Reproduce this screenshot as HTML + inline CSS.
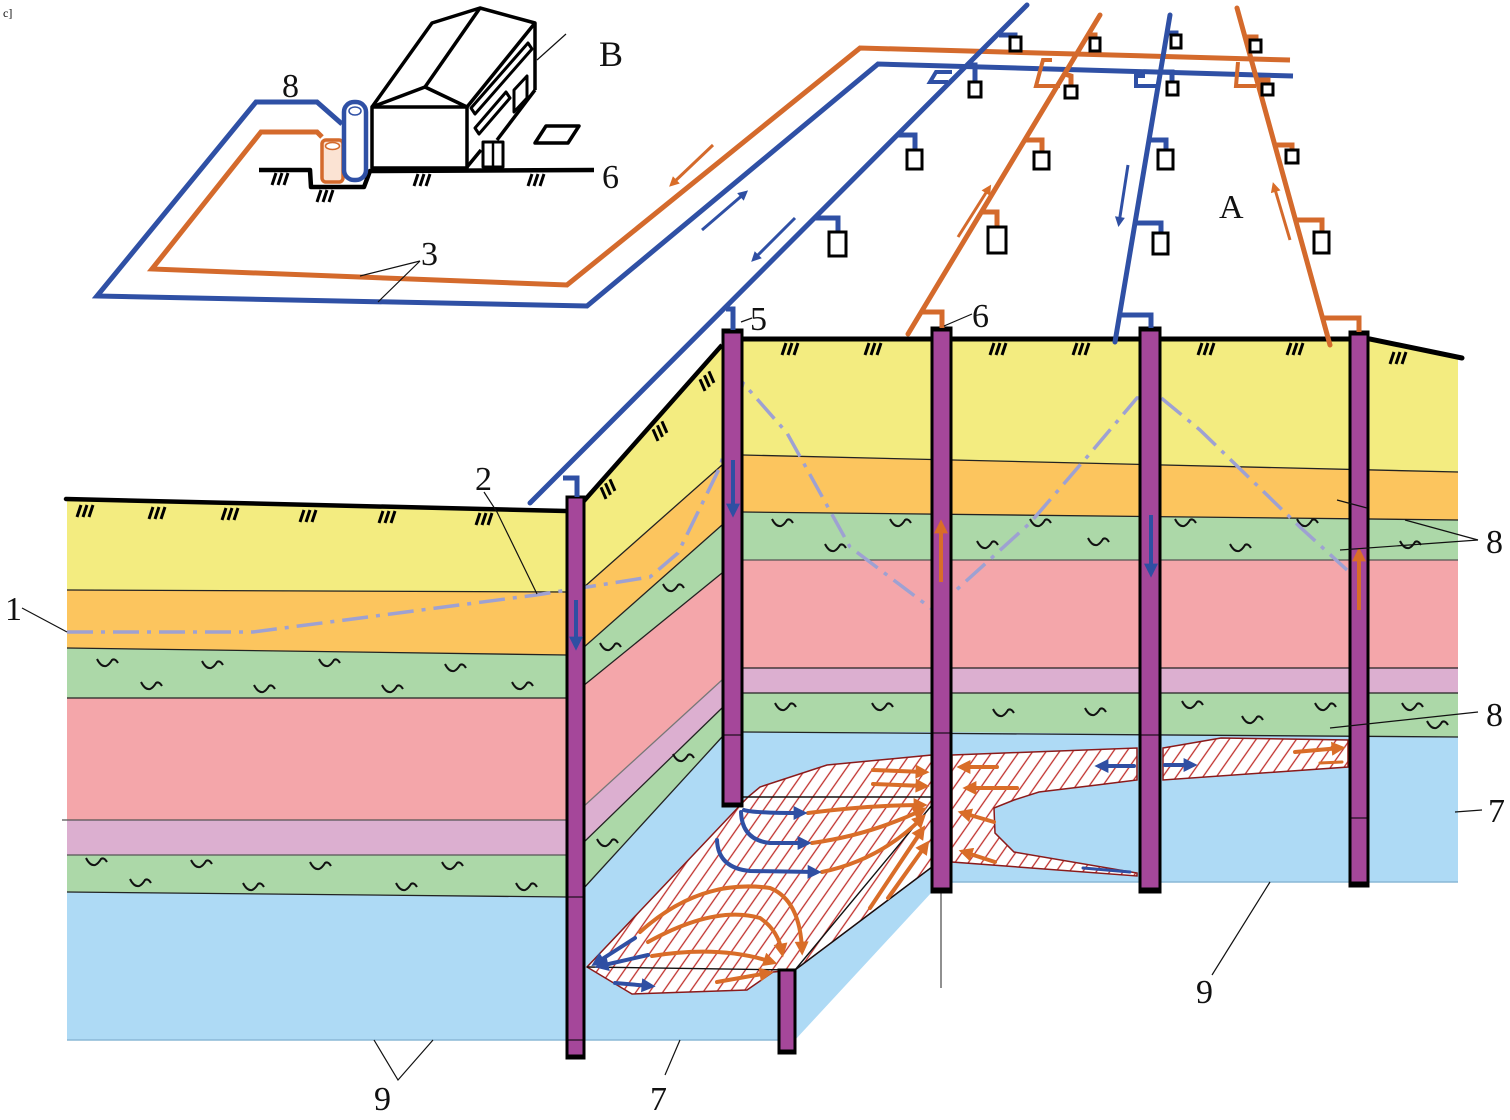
<!DOCTYPE html>
<html><head><meta charset="utf-8">
<style>html,body{margin:0;padding:0;background:#fff}svg{display:block}text{font-family:"Liberation Serif",serif;fill:#111}</style>
</head><body>
<svg width="1510" height="1120" viewBox="0 0 1510 1120" xmlns="http://www.w3.org/2000/svg">
<defs>
<pattern id="hp" width="11" height="11" patternUnits="userSpaceOnUse" patternTransform="rotate(35)"><rect width="11" height="11" fill="#fff"/><line x1="1" y1="0" x2="1" y2="11" stroke="#c0302c" stroke-width="1.3"/></pattern>
<path id="wv" d="M0,-4 Q4,4 9,3 Q12,2 15,-3 Q18,-5 21,0" fill="none" stroke="#111" stroke-width="2"/>
<path id="hm" d="M0,12 L4,0 M6,12 L10,0 M12,12 L16,0" stroke="#000" stroke-width="3" fill="none"/>
<marker id="mo" viewBox="0 0 10 10" refX="6" refY="5" markerWidth="16" markerHeight="14" markerUnits="userSpaceOnUse" orient="auto"><path d="M0,0 L10,5 L0,10 z" fill="#d96d28"/></marker>
<marker id="mb" viewBox="0 0 10 10" refX="6" refY="5" markerWidth="16" markerHeight="14" markerUnits="userSpaceOnUse" orient="auto"><path d="M0,0 L10,5 L0,10 z" fill="#2f4fa3"/></marker>
<marker id="mos" viewBox="0 0 10 10" refX="6" refY="5" markerWidth="12" markerHeight="10" markerUnits="userSpaceOnUse" orient="auto"><path d="M0,0 L10,5 L0,10 z" fill="#d96d28"/></marker>
<marker id="mbs" viewBox="0 0 10 10" refX="6" refY="5" markerWidth="12" markerHeight="10" markerUnits="userSpaceOnUse" orient="auto"><path d="M0,0 L10,5 L0,10 z" fill="#2f4fa3"/></marker>
</defs>
<rect width="1510" height="1120" fill="#fff"/>

<!-- LEFT BLOCK -->
<polygon points="67,499 567,511 567,592 67,590" fill="#f3ec80"/>
<polygon points="67,590 567,592 567,655 67,648" fill="#fcc55e"/>
<polygon points="67,648 567,655 567,698 67,698" fill="#acd8a8"/>
<polygon points="67,698 567,698 567,820 67,820" fill="#f4a6aa"/>
<polygon points="67,820 567,820 567,855 67,855" fill="#dcafd0"/>
<polygon points="67,855 567,855 567,897 67,892" fill="#acd8a8"/>
<polygon points="67,892 567,897 567,1040 67,1040" fill="#aedaf5"/>
<g stroke="#222" stroke-width="1.3" fill="none">
<line x1="67" y1="590" x2="567" y2="592"/><line x1="67" y1="648" x2="567" y2="655"/><line x1="67" y1="698" x2="567" y2="698"/>
<line x1="62" y1="820" x2="567" y2="820" stroke="#555"/><line x1="67" y1="855" x2="567" y2="855" stroke="#555"/><line x1="67" y1="892" x2="567" y2="897"/>
</g>
<line x1="67" y1="1040" x2="567" y2="1040" stroke="#8ab8d6" stroke-width="1.5"/>

<!-- OBLIQUE FACE -->
<polygon points="583,502 722,346 722,465 583,588" fill="#f3ec80"/>
<polygon points="583,588 722,465 722,525 583,648" fill="#fcc55e"/>
<polygon points="583,648 722,525 722,573 583,686" fill="#acd8a8"/>
<polygon points="583,686 722,573 722,680 583,807" fill="#f4a6aa"/>
<polygon points="583,807 722,680 722,708 583,843" fill="#dcafd0"/>
<polygon points="583,843 722,708 722,737 583,889" fill="#acd8a8"/>

<!-- RIGHT BLOCK -->
<polygon points="743,340 1370,340 1458,358 1458,472 743,455" fill="#f3ec80"/>
<polygon points="743,455 1458,472 1458,520 743,512" fill="#fcc55e"/>
<polygon points="743,512 1458,520 1458,560 743,560" fill="#acd8a8"/>
<polygon points="743,560 1458,560 1458,668 743,668" fill="#f4a6aa"/>
<polygon points="743,668 1458,668 1458,693 743,693" fill="#dcafd0"/>
<polygon points="743,693 1458,693 1458,737 743,732" fill="#acd8a8"/>
<polygon points="932,732 1458,737 1458,882 932,882" fill="#aedaf5"/>

<!-- MIDDLE BLUE -->
<polygon points="583,889 722,737 743,732 932,732 932,892 795,1040 583,1040" fill="#aedaf5"/>
<line x1="583" y1="1040" x2="780" y2="1040" stroke="#8ab8d6" stroke-width="1.5"/>
<line x1="932" y1="882" x2="1458" y2="882" stroke="#8ab8d6" stroke-width="1.5"/>

<g stroke="#222" stroke-width="1.3" fill="none">
<line x1="583" y1="588" x2="722" y2="465"/><line x1="583" y1="648" x2="722" y2="525"/><line x1="583" y1="686" x2="722" y2="573"/>
<line x1="583" y1="807" x2="722" y2="680" stroke="#777"/><line x1="583" y1="843" x2="722" y2="708"/><line x1="583" y1="889" x2="722" y2="737"/>
<line x1="743" y1="455" x2="1458" y2="472"/><line x1="743" y1="512" x2="1458" y2="520"/><line x1="743" y1="560" x2="1458" y2="560" stroke="#555"/>
<line x1="743" y1="668" x2="1458" y2="668"/><line x1="743" y1="693" x2="1458" y2="693"/><line x1="743" y1="732" x2="1458" y2="737"/>
</g>

<!-- PLUMES -->
<polygon points="587,967 748,797 760,787 827,765 932,755 932,867 795,970 773,972 747,990 632,994" fill="url(#hp)" stroke="#8b1a1a" stroke-width="1.5"/>
<polygon points="952,755 1137,748 1137,780 1097,785 1039,792 1014,800 994,808 995,833 1014,852 1137,873 1137,876 952,862" fill="url(#hp)" stroke="#8b1a1a" stroke-width="1.5"/>
<polygon points="1163,748 1221,738 1348,740 1348,767 1163,780" fill="url(#hp)" stroke="#8b1a1a" stroke-width="1.5"/>
<g stroke="#111" stroke-width="1.4" fill="none">
<line x1="743" y1="797" x2="932" y2="797"/>
<line x1="587" y1="967" x2="795" y2="970"/>
<line x1="795" y1="970" x2="932" y2="805"/>
<line x1="795" y1="970" x2="932" y2="867"/>
</g>
<line x1="941" y1="892" x2="941" y2="988" stroke="#555" stroke-width="1.3"/>

<!-- wavy symbols -->
<g>
<use href="#wv" x="97" y="663"/><use href="#wv" x="202" y="665"/><use href="#wv" x="319" y="663"/><use href="#wv" x="445" y="668"/>
<use href="#wv" x="141" y="686"/><use href="#wv" x="254" y="689"/><use href="#wv" x="382" y="689"/><use href="#wv" x="512" y="686"/>
<use href="#wv" x="86" y="862"/><use href="#wv" x="191" y="864"/><use href="#wv" x="310" y="866"/><use href="#wv" x="442" y="866"/>
<use href="#wv" x="130" y="883"/><use href="#wv" x="243" y="887"/><use href="#wv" x="396" y="887"/><use href="#wv" x="516" y="887"/>
<use href="#wv" x="663" y="588"/><use href="#wv" x="600" y="647"/><use href="#wv" x="673" y="758"/><use href="#wv" x="597" y="843"/>
<use href="#wv" x="772" y="523"/><use href="#wv" x="825" y="548"/><use href="#wv" x="890" y="523"/><use href="#wv" x="977" y="545"/>
<use href="#wv" x="1030" y="523"/><use href="#wv" x="1088" y="542"/><use href="#wv" x="1175" y="523"/><use href="#wv" x="1230" y="548"/>
<use href="#wv" x="1297" y="523"/><use href="#wv" x="1400" y="545"/>
<use href="#wv" x="775" y="707"/><use href="#wv" x="872" y="707"/><use href="#wv" x="993" y="713"/><use href="#wv" x="1085" y="712"/>
<use href="#wv" x="1182" y="705"/><use href="#wv" x="1242" y="720"/><use href="#wv" x="1315" y="707"/><use href="#wv" x="1402" y="707"/><use href="#wv" x="1427" y="725"/>
</g>

<!-- surfaces -->
<polyline points="66,499 566,511" stroke="#000" stroke-width="4.5" fill="none" stroke-linecap="round"/>
<polyline points="583,502 722,345" stroke="#000" stroke-width="4.5" fill="none"/>
<polyline points="742,339 1370,339 1462,358" stroke="#000" stroke-width="5" fill="none" stroke-linecap="round"/>
<g>
<use href="#hm" x="77" y="505"/><use href="#hm" x="149" y="507"/><use href="#hm" x="222" y="508"/><use href="#hm" x="300" y="510"/><use href="#hm" x="379" y="511"/><use href="#hm" x="476" y="513"/>
<use href="#hm" x="782" y="343"/><use href="#hm" x="865" y="343"/><use href="#hm" x="990" y="343"/><use href="#hm" x="1073" y="343"/><use href="#hm" x="1198" y="343"/><use href="#hm" x="1287" y="343"/><use href="#hm" x="1390" y="352"/>
<use href="#hm" transform="translate(598,490) rotate(-42)"/><use href="#hm" transform="translate(650,432) rotate(-42)"/><use href="#hm" transform="translate(697,382) rotate(-42)"/>
</g>

<!-- water table -->
<polyline points="67,632 253,632 536,595 600,585 650,577 678,553 720,467 743,383 787,433 850,547 932,609 953,593 1030,523 1093,450 1137,398 1160,397 1200,430 1300,527 1347,570" fill="none" stroke="#9ea1d2" stroke-width="3.5" stroke-dasharray="26 8 4 8"/>

<!-- WELLS -->
<g fill="#a5479a" stroke="#000" stroke-width="3">
<rect x="567" y="497" width="17" height="561"/>
<rect x="723" y="330" width="19" height="476"/>
<rect x="932" y="328" width="19" height="564"/>
<rect x="1140" y="328" width="20" height="564"/>
<rect x="1350" y="332" width="18" height="554"/>
<rect x="779" y="970" width="16" height="83"/>
</g>
<g stroke="#000" stroke-width="5">
<line x1="567" y1="1057" x2="584" y2="1057"/><line x1="723" y1="805" x2="742" y2="805"/><line x1="932" y1="890" x2="951" y2="890"/>
<line x1="1140" y1="890" x2="1160" y2="890"/><line x1="1350" y1="884" x2="1368" y2="884"/><line x1="779" y1="1052" x2="795" y2="1052"/>
<line x1="723" y1="331" x2="742" y2="331"/><line x1="932" y1="329" x2="951" y2="329"/><line x1="1140" y1="329" x2="1160" y2="329"/><line x1="1350" y1="333" x2="1368" y2="333"/>
</g>
<g stroke="#000" stroke-width="1">
<line x1="568" y1="1040" x2="583" y2="1040"/><line x1="724" y1="735" x2="741" y2="735"/><line x1="933" y1="733" x2="950" y2="733"/><line x1="1141" y1="735" x2="1159" y2="735"/><line x1="1351" y1="818" x2="1367" y2="818"/><line x1="568" y1="897" x2="583" y2="897"/>
</g>

<!-- well arrows -->
<g stroke-width="4" fill="none">
<line x1="576" y1="600" x2="576" y2="645" stroke="#2f4fa3" marker-end="url(#mb)"/>
<line x1="733" y1="460" x2="733" y2="512" stroke="#2f4fa3" marker-end="url(#mb)"/>
<line x1="941" y1="582" x2="941" y2="525" stroke="#d96d28" marker-end="url(#mo)"/>
<line x1="1151" y1="515" x2="1151" y2="572" stroke="#2f4fa3" marker-end="url(#mb)"/>
<line x1="1359" y1="610" x2="1359" y2="553" stroke="#d96d28" marker-end="url(#mo)"/>
</g>

<!-- plume arrows -->
<g stroke-width="4" fill="none" stroke-linecap="round">
<path d="M808,813 Q870,805 922,805" stroke="#d96d28" marker-end="url(#mo)"/>
<path d="M812,843 Q870,835 922,810" stroke="#d96d28" marker-end="url(#mo)"/>
<path d="M822,872 Q880,860 922,818" stroke="#d96d28" marker-end="url(#mo)"/>
<path d="M640,932 Q700,878 770,888 Q800,900 802,950" stroke="#d96d28" marker-end="url(#mo)"/>
<path d="M648,942 Q715,905 760,918 Q778,930 782,952" stroke="#d96d28" marker-end="url(#mo)"/>
<path d="M652,956 Q720,945 772,962" stroke="#d96d28" marker-end="url(#mo)"/>
<path d="M717,982 L768,973" stroke="#d96d28" marker-end="url(#mo)"/>
<path d="M870,908 L922,830" stroke="#d96d28" marker-end="url(#mo)"/>
<path d="M888,898 L926,845" stroke="#d96d28" marker-end="url(#mo)"/>
<path d="M873,770 L924,772" stroke="#d96d28" marker-end="url(#mo)"/>
<path d="M873,784 L924,786" stroke="#d96d28" marker-end="url(#mo)"/>
<path d="M997,767 L962,767" stroke="#d96d28" marker-end="url(#mo)"/>
<path d="M1017,788 L968,788" stroke="#d96d28" marker-end="url(#mo)"/>
<path d="M994,822 L963,813" stroke="#d96d28" marker-end="url(#mo)"/>
<path d="M995,862 L964,852" stroke="#d96d28" marker-end="url(#mo)"/>
<path d="M1295,752 L1340,748" stroke="#d96d28" marker-end="url(#mo)"/>
<path d="M1320,763 L1342,762" stroke="#d96d28" stroke-width="3"/>
<path d="M744,810 Q752,813 802,813" stroke="#2f4fa3" marker-end="url(#mb)"/>
<path d="M741,812 Q742,840 770,843 L806,843" stroke="#2f4fa3" marker-end="url(#mb)"/>
<path d="M717,840 Q718,868 750,871 L816,872" stroke="#2f4fa3" marker-end="url(#mb)"/>
<path d="M635,938 L596,963" stroke="#2f4fa3" marker-end="url(#mb)"/>
<path d="M648,955 L600,966" stroke="#2f4fa3" marker-end="url(#mb)"/>
<path d="M615,983 L650,986" stroke="#2f4fa3" marker-end="url(#mb)"/>
<path d="M1134,766 L1100,766" stroke="#2f4fa3" marker-end="url(#mb)"/>
<path d="M1083,868 L1130,872" stroke="#2f4fa3" stroke-width="3"/>
<path d="M1165,765 L1192,765" stroke="#2f4fa3" marker-end="url(#mb)"/>
</g>

<!-- TOP NETWORK -->
<g fill="none" stroke-width="5" stroke-linejoin="miter">
<polyline points="322,137 317,132 261,132 152,269 567,285 860,48 1290,60" stroke="#d46a2c"/>
<polyline points="342,124 317,102 256,102 97,296 587,306 878,64 1293,76" stroke="#2f50a5"/>
<polyline points="530,503 1027,5" stroke="#2f50a5" stroke-linecap="round"/>
<polyline points="563,478 577,478 577,497" stroke="#2f50a5"/>
<polyline points="726,309 733,309 733,330" stroke="#2f50a5"/>
<polyline points="814,218 838,218 838,232" stroke="#2f50a5"/>
<polyline points="897,135 915,135 915,150" stroke="#2f50a5"/>
<polyline points="967,65 975,65 975,82" stroke="#2f50a5"/>
<polyline points="999,35 1015,35 1015,38" stroke="#2f50a5"/>
<polyline points="952,72 936,72 930,82 948,82" stroke="#2f50a5" stroke-width="4"/>
<polyline points="908,334 1100,15" stroke="#d46a2c" stroke-linecap="round"/>
<polyline points="921,312 942,312 942,328" stroke="#d46a2c"/>
<polyline points="981,212 997,212 997,227" stroke="#d46a2c"/>
<polyline points="1025,140 1042,140 1042,152" stroke="#d46a2c"/>
<polyline points="1065,74 1071,76 1071,86" stroke="#d46a2c"/>
<polyline points="1088,35 1095,35 1095,38" stroke="#d46a2c"/>
<polyline points="1052,60 1043,60 1036,86 1060,86" stroke="#d46a2c" stroke-width="4"/>
<polyline points="1115,342 1170,15" stroke="#2f50a5" stroke-linecap="round"/>
<polyline points="1120,315 1151,315 1151,328" stroke="#2f50a5"/>
<polyline points="1135,223 1161,223 1161,233" stroke="#2f50a5"/>
<polyline points="1149,140 1166,140 1166,150" stroke="#2f50a5"/>
<polyline points="1161,72 1172,72 1172,82" stroke="#2f50a5"/>
<polyline points="1167,33 1176,33 1176,35" stroke="#2f50a5"/>
<polyline points="1145,76 1136,76 1136,86 1158,86" stroke="#2f50a5" stroke-width="4"/>
<polyline points="1237,8 1330,345" stroke="#d46a2c" stroke-linecap="round"/>
<polyline points="1323,318 1359,318 1359,332" stroke="#d46a2c"/>
<polyline points="1295,220 1322,220 1322,232" stroke="#d46a2c"/>
<polyline points="1275,145 1292,145 1292,150" stroke="#d46a2c"/>
<polyline points="1257,80 1268,80 1268,85" stroke="#d46a2c"/>
<polyline points="1245,37 1256,37 1256,40" stroke="#d46a2c"/>
<polyline points="1238,62 1236,86 1256,86" stroke="#d46a2c" stroke-width="4"/>
</g>
<g fill="#fff" stroke="#000" stroke-width="3">
<rect x="829" y="232" width="17" height="24"/><rect x="907" y="150" width="15" height="19"/><rect x="969" y="82" width="12" height="15"/><rect x="1010" y="37" width="11" height="14"/>
<rect x="988" y="227" width="18" height="26"/><rect x="1034" y="152" width="15" height="17"/><rect x="1065" y="86" width="12" height="12"/><rect x="1090" y="38" width="10" height="13"/>
<rect x="1153" y="233" width="15" height="21"/><rect x="1158" y="150" width="15" height="19"/><rect x="1167" y="82" width="11" height="13"/><rect x="1171" y="35" width="10" height="13"/>
<rect x="1314" y="232" width="15" height="21"/><rect x="1286" y="150" width="12" height="13"/><rect x="1262" y="84" width="11" height="11"/><rect x="1250" y="40" width="11" height="12"/>
</g>
<g stroke-width="3" fill="none">
<line x1="713" y1="145" x2="672" y2="184" stroke="#d46a2c" marker-end="url(#mos)"/>
<line x1="702" y1="230" x2="745" y2="193" stroke="#2f50a5" marker-end="url(#mbs)"/>
<line x1="795" y1="218" x2="754" y2="259" stroke="#2f50a5" marker-end="url(#mbs)"/>
<line x1="958" y1="237" x2="989" y2="188" stroke="#d46a2c" marker-end="url(#mos)"/>
<line x1="1128" y1="165" x2="1119" y2="223" stroke="#2f50a5" marker-end="url(#mbs)"/>
<line x1="1290" y1="240" x2="1274" y2="186" stroke="#d46a2c" marker-end="url(#mos)"/>
</g>

<!-- BUILDING -->
<g fill="none" stroke="#000" stroke-width="3.5" stroke-linejoin="round">
<polyline points="259,170 310,170 311,187 364,187 370,171 594,170" stroke-width="4.5"/>
<rect x="372" y="107" width="95" height="61" fill="#fff"/>
<polyline points="372,107 425,87 467,107"/>
<polyline points="372,107 432,23 480,8 535,23 535,90"/>
<line x1="425" y1="87" x2="480" y2="8"/>
<line x1="467" y1="107" x2="535" y2="23"/>
<polyline points="535,90 497,140"/>
<line x1="467" y1="167" x2="481" y2="150"/>
<rect x="483" y="142" width="20" height="25" stroke-width="3"/>
<line x1="493" y1="142" x2="493" y2="167" stroke-width="2.5"/>
<polygon points="471,108 528,43 532,49 475,114" stroke-width="3"/>
<polygon points="475,128 506,92 510,98 479,134" stroke-width="3"/>
<polygon points="514,90 527,76 527,98 514,112" stroke-width="3"/>
<polygon points="535,143 546,126 579,126 568,143" stroke-width="3.5"/>
</g>
<g>
<use href="#hm" x="272" y="173"/>
<use href="#hm" x="317" y="190"/><use href="#hm" x="414" y="174"/><use href="#hm" x="528" y="174"/>
</g>
<rect x="322" y="140" width="21" height="42" rx="4" fill="#fbe3d3" stroke="#d46a2c" stroke-width="3.5"/>
<ellipse cx="332.5" cy="146" rx="7" ry="3.5" fill="#fff" stroke="#d46a2c" stroke-width="1.5"/>
<rect x="344" y="102" width="22" height="78" rx="10" fill="#fff" stroke="#2f50a5" stroke-width="4.5"/>
<ellipse cx="355" cy="111" rx="6" ry="4" fill="#fff" stroke="#2f50a5" stroke-width="1.5"/>

<!-- LEADER LINES -->
<g stroke="#111" stroke-width="1.2" fill="none">
<line x1="22" y1="608" x2="67" y2="632"/>
<polyline points="484,492 497,512 537,594"/>
<line x1="420" y1="261" x2="360" y2="276"/><line x1="420" y1="261" x2="378" y2="302"/>
<line x1="537" y1="60" x2="566" y2="34"/>
<line x1="741" y1="322" x2="752" y2="318"/>
<line x1="944" y1="326" x2="972" y2="314"/>
<line x1="1405" y1="520" x2="1478" y2="540"/><line x1="1340" y1="550" x2="1478" y2="540"/><line x1="1337" y1="500" x2="1367" y2="508"/>
<line x1="1330" y1="728" x2="1478" y2="712"/>
<line x1="1455" y1="812" x2="1482" y2="810"/>
<line x1="1212" y1="975" x2="1270" y2="882"/>
<polyline points="374,1040 398,1080 433,1040"/>
<line x1="665" y1="1075" x2="680" y2="1040"/>
</g>

<!-- LABELS -->
<g font-size="34">
<text x="5" y="620">1</text>
<text x="475" y="490">2</text>
<text x="421" y="265">3</text>
<text x="282" y="97">8</text>
<text x="599" y="66" font-size="36">B</text>
<text x="602" y="188">6</text>
<text x="1219" y="218">A</text>
<text x="750" y="330">5</text>
<text x="972" y="327">6</text>
<text x="1486" y="553">8</text>
<text x="1486" y="726">8</text>
<text x="1488" y="822">7</text>
<text x="1196" y="1003">9</text>
<text x="374" y="1110">9</text>
<text x="650" y="1110">7</text>
</g>
<text x="3" y="17" font-size="12">c]</text>
</svg>
</body></html>
